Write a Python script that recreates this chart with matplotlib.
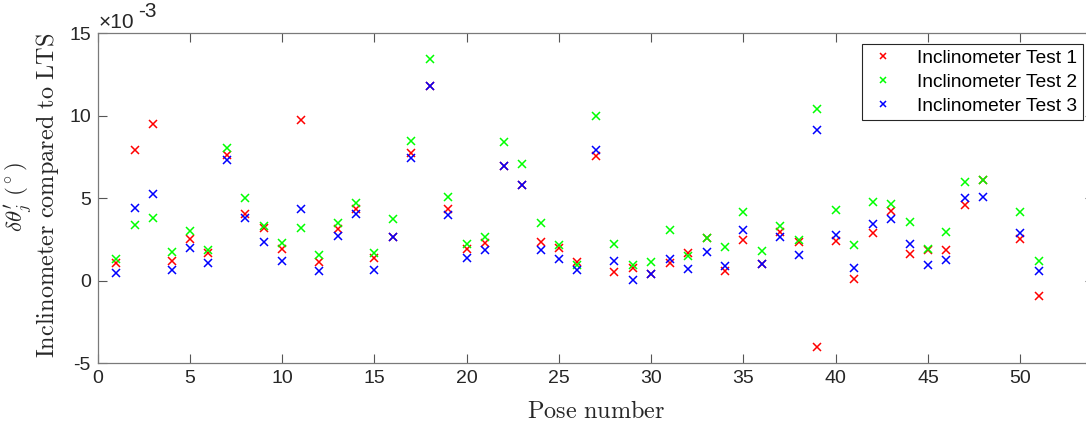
import matplotlib
matplotlib.use("Agg")
import matplotlib.pyplot as plt

# Inclinometer error vs LTS per pose, in units of 1e-3 degrees (pose 49 has no data)
pose = [1, 2, 3, 4, 5, 6, 7, 8, 9, 10, 11, 12, 13, 14, 15, 16, 17, 18, 19, 20,
        21, 22, 23, 24, 25, 26, 27, 28, 29, 30, 31, 32, 33, 34, 35, 36, 37, 38, 39, 40,
        41, 42, 43, 44, 45, 46, 47, 48, 50, 51]

test1 = [1.05, 7.92, 9.50, 1.17, 2.54, 1.69, 7.62, 4.07, 3.18, 1.95,
         9.76, 1.15, 3.15, 4.37, 1.39, 2.68, 7.74, 11.80, 4.33, 1.91,
         2.30, 6.97, 5.83, 2.34, 1.97, 1.11, 7.58, 0.54, 0.80, 0.42,
         1.05, 1.69, 2.58, 0.60, 2.46, 1.03, 2.98, 2.36, -3.99, 2.40,
         0.12, 2.88, 4.25, 1.61, 1.85, 1.85, 4.57, 6.11, 2.52, -0.91]

test2 = [1.35, 3.37, 3.81, 1.73, 3.02, 1.89, 8.02, 5.02, 3.30, 2.30,
         3.21, 1.57, 3.48, 4.72, 1.71, 3.77, 8.45, 13.47, 5.08, 2.22,
         2.64, 8.41, 7.08, 3.51, 2.20, 0.97, 10.00, 2.24, 0.93, 1.15,
         3.06, 1.49, 2.58, 2.06, 4.15, 1.81, 3.35, 2.48, 10.44, 4.29,
         2.15, 4.76, 4.68, 3.55, 1.95, 2.94, 6.01, 6.11, 4.19, 1.17]

test3 = [0.48, 4.41, 5.28, 0.64, 2.01, 1.07, 7.30, 3.83, 2.34, 1.21,
         4.33, 0.58, 2.70, 4.03, 0.68, 2.68, 7.46, 11.80, 3.97, 1.39,
         1.88, 6.97, 5.83, 1.85, 1.33, 0.68, 7.94, 1.23, 0.06, 0.42,
         1.31, 0.73, 1.75, 0.89, 3.06, 1.03, 2.66, 1.59, 9.13, 2.80,
         0.80, 3.43, 3.77, 2.26, 0.94, 1.29, 5.02, 5.10, 2.90, 0.58]

labels = ["Inclinometer Test 1", "Inclinometer Test 2", "Inclinometer Test 3"]
colors = ["#ff0000", "#00ff00", "#0000ff"]
xticks = [0, 5, 10, 15, 20, 25, 30, 35, 40, 45, 50]
yticks = [-5, 0, 5, 10, 15]

plt.rcParams["axes.unicode_minus"] = False
plt.rcParams["mathtext.fontset"] = "cm"
sans = "Liberation Sans"

W, H = 1086, 428
fig = plt.figure(figsize=(W / 100, H / 100), dpi=100)
ax = fig.add_axes([97.7 / W, 1 - 363.3 / H, (1094 - 97.7) / W, 330 / H])

for ys, lab, c in zip([test1, test2, test3], labels, colors):
    ax.plot(pose, ys, ls="none", marker="x", color=c, ms=6, mew=1.1, label=lab)

ax.set_xlim(0, 54)
ax.set_ylim(-5, 15)
ax.set_xticks(xticks)
ax.set_yticks(yticks)

for s in ax.spines.values():
    s.set_color("#7a7a7a")
    s.set_linewidth(0.9)
ax.tick_params(direction="in", length=6.5, width=0.8, color="#555555",
               top=True, right=True, labelsize=14, labelcolor="#262626")
ax.tick_params(axis="y", pad=5)
ax.tick_params(axis="x", pad=5)
for t in ax.get_xticklabels() + ax.get_yticklabels():
    t.set_family(sans)

# exponent marker
fig.text(99 / W, 1 - 28 / H, "\u00d710", family=sans, fontsize=15,
         color="#262626", va="baseline", ha="left")
fig.text(138 / W, 1 - 17 / H, "-3", family=sans, fontsize=15,
         color="#262626", va="baseline", ha="left")

# axis labels
fig.text(18 / W, 1 - 197 / H, r"$\delta\theta^{\prime}_{j}\ (^\circ)$", rotation=90,
         fontsize=16.5, ha="center", va="center", color="#262626")
fig.text(48 / W, 1 - 195 / H, r"$\mathrm{Inclinometer\ compared\ to\ LTS}$",
         rotation=90, fontsize=17.5, ha="center", va="center", color="#262626")
fig.text(596 / W, 1 - 418 / H, r"$\mathrm{Pose\ number}$", fontsize=17.5,
         ha="center", va="baseline", color="#262626")

leg = ax.legend(loc="upper right", bbox_to_anchor=(1083 / W, 1 - 44 / H),
                bbox_transform=fig.transFigure, prop={"family": sans, "size": 13.8},
                fancybox=False, framealpha=1, edgecolor="#262626",
                borderpad=0.3, labelspacing=0.33, handlelength=1.6,
                handletextpad=1.0, borderaxespad=0, markerscale=0.8)
leg.get_frame().set_linewidth(0.8)

fig.savefig("out.png", dpi=100)
